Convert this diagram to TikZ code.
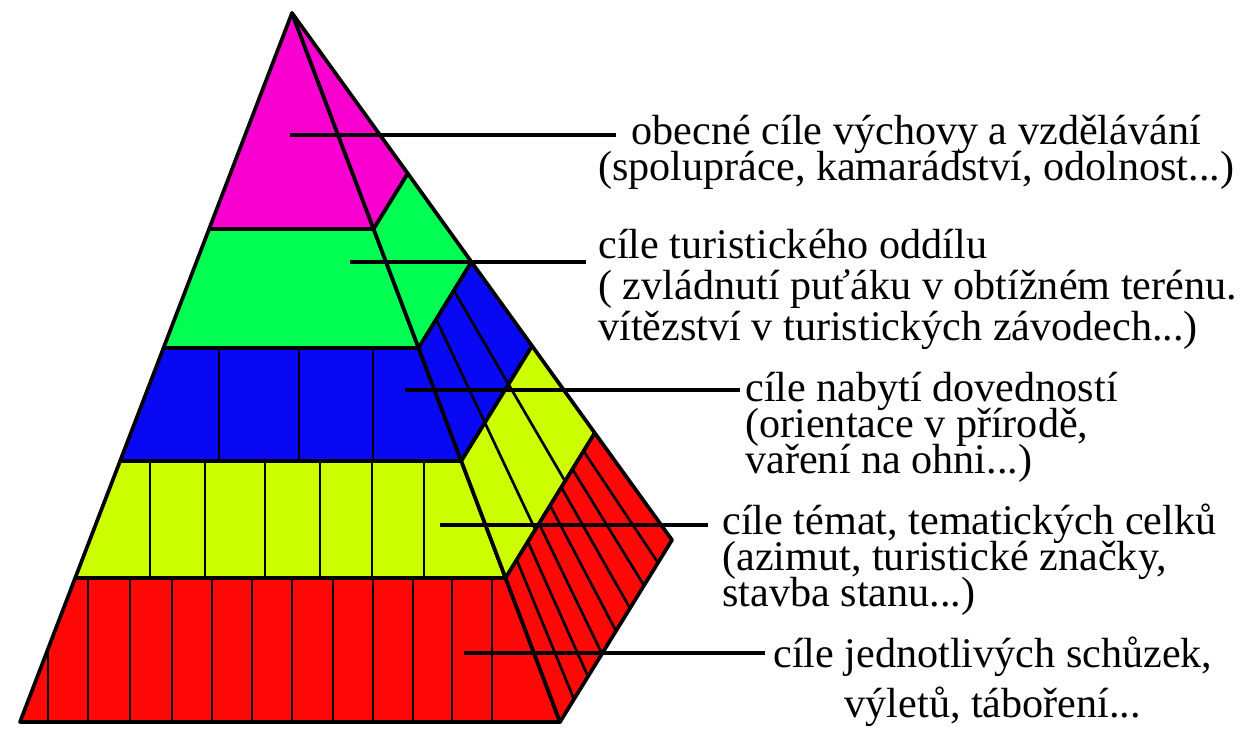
\documentclass[tikz,border=0pt]{standalone}
\usepackage{fontspec}
\setmainfont{Liberation Serif}
\newfontfamily\goalfont{Liberation Serif}
\newcommand\goalsize{\fontsize{24}{20.4}\selectfont\lineskiplimit=-30pt\relax}
\usetikzlibrary{calc}
\definecolor{PyrMagenta}{HTML}{F800D0}
\definecolor{PyrGreen}{HTML}{00FF52}
\definecolor{PyrBlue}{HTML}{0808F5}
\definecolor{PyrYellow}{HTML}{CCFF00}
\definecolor{PyrRed}{HTML}{FF0808}

\begin{document}
\begin{tikzpicture}[x=0.02cm,y=-0.02cm,
    band/.style={draw=black, line width=2.1pt, line join=round},
    brick/.style={draw=black, line width=1.5pt},
    leader/.style={draw=black, line width=2.8pt},
    goal/.style={inner sep=0pt, anchor=north west, font=\goalfont\goalsize}]
  \useasboundingbox (0,0) rectangle (1252,729);

  % Outline corners
  \coordinate (A) at (292,13);
  \coordinate (BL) at (20,722);
  \coordinate (BR) at (560,722);
  \coordinate (C) at (672,540);

  % Left edge, ridge and outer edge points of the bands
  \coordinate (L1) at (209.1,229);
  \coordinate (L2) at (163.5,348);
  \coordinate (L3) at (120.1,461);
  \coordinate (L4) at (75.2,578);
  \coordinate (R1) at (373.6,229);
  \coordinate (R2) at (418.6,348);
  \coordinate (R3) at (461.3,461);
  \coordinate (R4) at (505.6,578);
  \coordinate (Q1) at (407.8,173.5);
  \coordinate (Q2) at (471.5,262);
  \coordinate (Q3) at (532.1,346);
  \coordinate (Q4) at (594.8,433);

  % Front face
  \filldraw[band, fill=PyrMagenta] (A) -- (R1) -- (L1) -- cycle;
  \filldraw[band, fill=PyrGreen] (L1) -- (R1) -- (R2) -- (L2) -- cycle;
  \filldraw[band, fill=PyrBlue] (L2) -- (R2) -- (R3) -- (L3) -- cycle;
  \filldraw[band, fill=PyrYellow] (L3) -- (R3) -- (R4) -- (L4) -- cycle;
  \filldraw[band, fill=PyrRed] (L4) -- (R4) -- (BR) -- (BL) -- cycle;

  % Side face
  \filldraw[band, fill=PyrMagenta] (A) -- (Q1) -- (R1) -- cycle;
  \filldraw[band, fill=PyrGreen] (R1) -- (Q1) -- (Q2) -- (R2) -- cycle;
  \filldraw[band, fill=PyrBlue] (R2) -- (Q2) -- (Q3) -- (R3) -- cycle;
  \filldraw[band, fill=PyrYellow] (R3) -- (Q3) -- (Q4) -- (R4) -- cycle;
  \filldraw[band, fill=PyrRed] (R4) -- (Q4) -- (C) -- (BR) -- cycle;

  % Bricks on the front
  \begin{scope}
    \clip (L2) -- (R2) -- (R3) -- (L3) -- cycle;
    \foreach \x in {219,299,373}
      \draw[brick] (\x,348) -- (\x,461);
  \end{scope}
  \begin{scope}
    \clip (L3) -- (R3) -- (R4) -- (L4) -- cycle;
    \foreach \x in {150,205,265,320,372,424}
      \draw[brick] (\x,461) -- (\x,578);
  \end{scope}
  \begin{scope}
    \clip (L4) -- (R4) -- (BR) -- (BL) -- cycle;
    \foreach \x in {48,88,130,172,212,252,292,333,373,413,452,492}
      \draw[brick] (\x,578) -- (\x,722);
  \end{scope}

  % Bricks on the side
  \foreach \f in {0.333,0.667}
    \draw[brick] ($(R2)!\f!(Q2)$) -- ($(R3)!\f!(Q3)$);
  \foreach \f in {0.333,0.667}
    \draw[brick] ($(R3)!\f!(Q3)$) -- ($(R4)!\f!(Q4)$);
  \foreach \f in {0.125,0.25,0.375,0.5,0.625,0.75,0.875}
    \draw[brick] ($(R4)!\f!(Q4)$) -- ($(BR)!\f!(C)$);

  % Labels
  \node[goal, align=center] (g1) at (598,115)
    {obecné cíle výchovy a vzdělávání\\(spolupráce, kamarádství, odolnost...)};
  \node[goal, align=left] (g2) at (598,229)
    {cíle turistického oddílu\\[0.1cm]( zvládnutí puťáku v obtížném terénu.\\[0.1cm]vítězství v turistických závodech...)};
  \node[goal, align=left] (g3) at (745,372)
    {cíle nabytí dovedností\\(orientace v přírodě,\\vaření na ohni...)};
  \node[goal, align=left] (g4) at (722,504)
    {cíle témat, tematických celků\\(azimut, turistické značky,\\stavba stanu...)};
  \node[goal, align=center] (g5) at (773,637)
    {cíle jednotlivých schůzek,\\[0.28cm]výletů, táboření...};

  % Leaders
  \coordinate (p1) at (290,135);
  \coordinate (p2) at (350,262);
  \coordinate (p3) at (405,390);
  \coordinate (p4) at (440,525);
  \coordinate (p5) at (464,653);
  \draw[leader, shorten >=-0.36cm] (p1) -- (p1 -| g1.west);
  \draw[leader, shorten >=0.25cm] (p2) -- (p2 -| g2.west);
  \draw[leader, shorten >=0.1cm] (p3) -- (p3 -| g3.west);
  \draw[leader, shorten >=0.28cm] (p4) -- (p4 -| g4.west);
  \draw[leader, shorten >=0.16cm] (p5) -- (p5 -| g5.west);
\end{tikzpicture}
\end{document}
